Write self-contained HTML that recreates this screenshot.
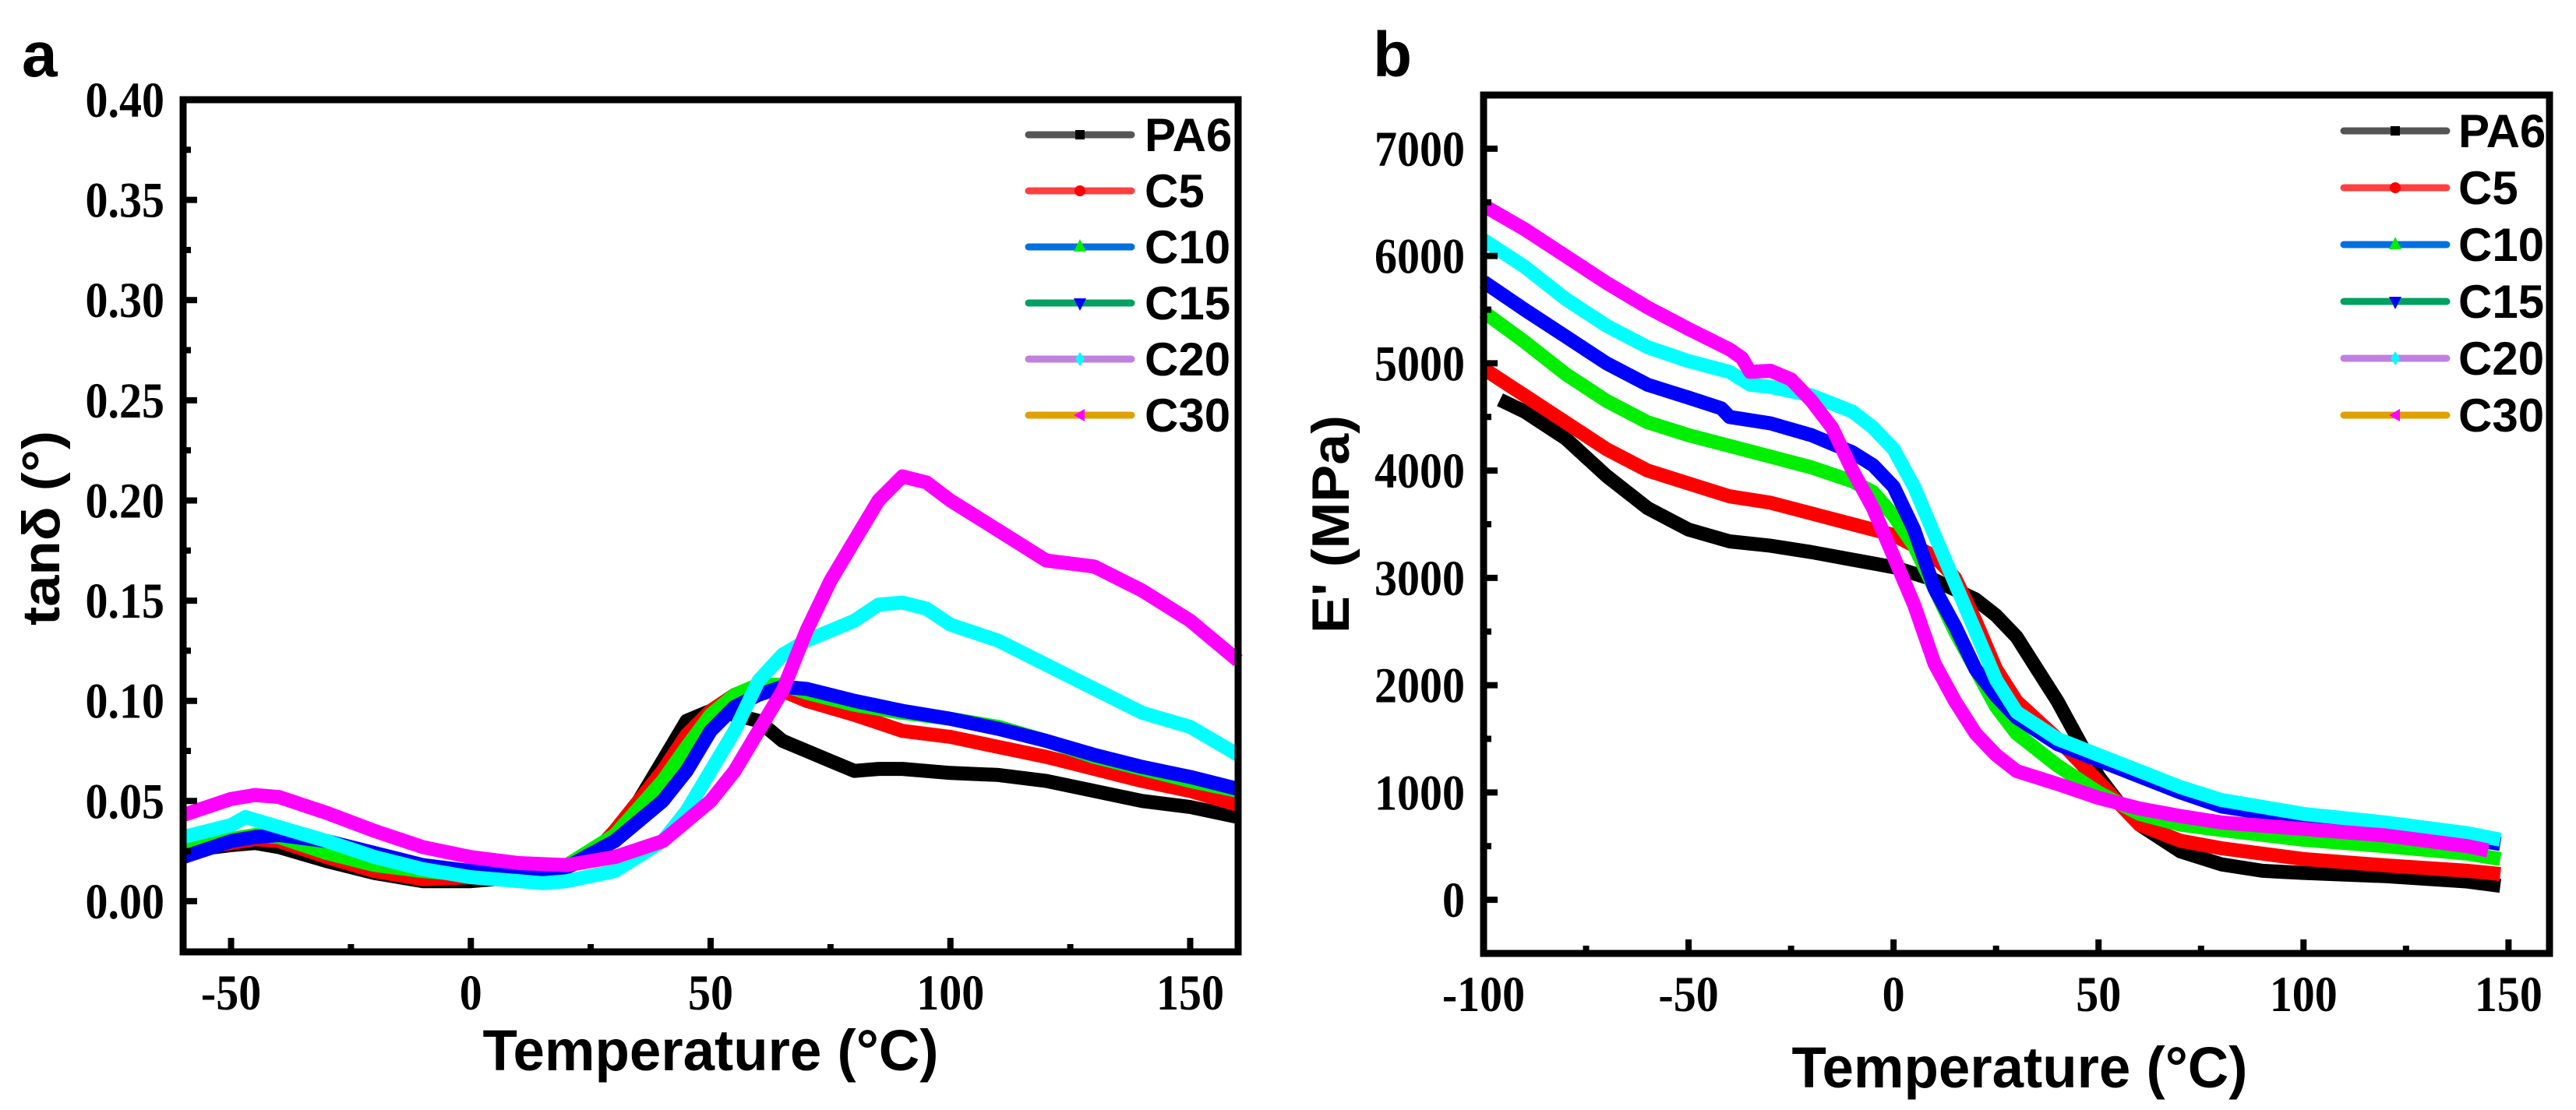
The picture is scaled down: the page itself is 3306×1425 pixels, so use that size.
<!DOCTYPE html>
<html>
<head>
<meta charset="utf-8">
<style>
html,body{margin:0;padding:0;background:#fff;}
svg{display:block;}
.tick{font-family:"Liberation Serif",serif;font-weight:bold;font-size:58px;fill:#000;}
.title{font-family:"Liberation Sans",sans-serif;font-weight:bold;fill:#000;}
.leg{font-family:"Liberation Sans",sans-serif;font-weight:bold;font-size:60px;fill:#000;}
</style>
</head>
<body>
<svg id="fig" width="3306" height="1425" viewBox="0 0 3306 1425" xmlns="http://www.w3.org/2000/svg">
<text x="28" y="98" class="title" font-size="82">a</text>
<text x="1762" y="98" class="title" font-size="82">b</text>
<g id="pa"></g>
<g id="pb"></g>
</svg>
<script>
// ---------- Panel a data (tan delta) ----------
const seriesNames = ["PA6","C5","C10","C15","C20","C30"];
const curveColors = ["#000000","#ff0000","#00ee00","#0000ff","#00ffff","#ff00ff"];
const legendLineColors = ["#555555","#ff4040","#0070e0","#00a060","#c080e0","#e0a000"];
const aTicksX = [-50,0,50,100,150];
const aTicksY = [0.00,0.05,0.10,0.15,0.20,0.25,0.30,0.35,0.40];
const aTickLabelsY = ["0.00","0.05","0.10","0.15","0.20","0.25","0.30","0.35","0.40"];
const aPA6T = [-60,-50,-45,-40,-30,-20,-10,0,10,20,25,30,35,40,45,50,55,60,65,70,75,80,85,90,100,110,120,130,140,150,160];
const aPA6V = [0.025,0.028,0.029,0.027,0.02,0.014,0.01,0.01,0.012,0.017,0.022,0.035,0.05,0.07,0.09,0.095,0.093,0.09,0.08,0.075,0.07,0.065,0.066,0.066,0.064,0.063,0.06,0.055,0.05,0.047,0.042];
const aC5T = [-60,-45,-40,-30,-20,-10,0,10,20,25,30,40,45,50,55,60,65,70,80,90,100,110,120,130,140,150,160];
const aC5V = [0.025,0.031,0.03,0.022,0.015,0.011,0.012,0.014,0.018,0.022,0.035,0.065,0.083,0.095,0.103,0.106,0.105,0.1,0.093,0.085,0.082,0.077,0.072,0.066,0.06,0.055,0.048];
const aC10T = [-60,-45,-40,-30,-20,-10,0,10,20,30,40,45,50,55,60,65,70,80,90,100,110,120,130,140,150,160];
const aC10V = [0.027,0.033,0.032,0.024,0.018,0.015,0.013,0.015,0.018,0.033,0.06,0.077,0.093,0.103,0.108,0.108,0.104,0.098,0.094,0.091,0.087,0.08,0.072,0.066,0.06,0.055];
const aC15T = [-60,-50,-45,-40,-30,-20,-10,0,10,15,20,30,40,45,50,55,60,65,70,80,90,100,110,120,130,140,150,160];
const aC15V = [0.022,0.03,0.032,0.033,0.03,0.024,0.018,0.015,0.014,0.015,0.017,0.03,0.05,0.065,0.085,0.097,0.103,0.107,0.106,0.1,0.095,0.091,0.086,0.08,0.073,0.067,0.062,0.056];
const aC20T = [-60,-50,-47,-40,-30,-20,-10,0,10,15,20,30,40,45,50,55,60,65,70,75,80,85,90,95,100,110,120,130,140,150,160];
const aC20V = [0.032,0.038,0.042,0.037,0.03,0.022,0.016,0.012,0.01,0.009,0.01,0.015,0.03,0.045,0.065,0.085,0.11,0.123,0.13,0.135,0.14,0.148,0.149,0.146,0.138,0.13,0.118,0.106,0.094,0.087,0.073];
const aC30T = [-60,-50,-45,-40,-30,-20,-10,0,10,20,30,40,50,55,60,65,70,75,80,85,90,95,100,110,120,130,140,150,160];
const aC30V = [0.043,0.051,0.053,0.052,0.044,0.035,0.027,0.022,0.019,0.018,0.022,0.03,0.05,0.065,0.085,0.105,0.135,0.16,0.18,0.2,0.212,0.209,0.2,0.185,0.17,0.167,0.155,0.14,0.12];

// ---------- Panel b data (storage modulus) ----------
const bTicksX = [-100,-50,0,50,100,150];
const bTicksY = [0,1000,2000,3000,4000,5000,6000,7000];
const bPA6T = [-96,-90,-80,-70,-60,-50,-40,-30,-20,-10,0,10,20,25,30,35,40,45,50,55,60,70,80,90,100,120,140,148];
const bPA6V = [4660,4550,4300,3950,3650,3450,3340,3300,3240,3170,3100,2980,2800,2650,2450,2150,1850,1500,1150,900,700,450,330,270,250,220,170,130];
const bC5T = [-100,-90,-80,-70,-60,-50,-40,-30,-20,-10,0,10,15,20,25,30,40,50,55,60,70,80,100,120,140,148];
const bC5V = [4950,4700,4450,4200,4000,3880,3760,3700,3600,3500,3400,3200,3000,2600,2150,1850,1500,1100,900,700,550,480,380,320,270,240];
const bC10T = [-100,-90,-80,-70,-60,-50,-40,-30,-20,-10,-5,0,5,10,15,20,25,30,40,50,60,70,80,100,120,140,148];
const bC10V = [5480,5200,4900,4650,4450,4330,4230,4130,4030,3900,3800,3580,3300,2900,2500,2150,1800,1550,1250,1000,800,700,650,560,500,430,380];
const bC15T = [-100,-90,-80,-70,-60,-50,-42,-40,-30,-20,-10,-5,0,5,10,15,20,25,30,40,50,60,70,80,100,120,140,148];
const bC15V = [5760,5500,5250,5000,4800,4680,4580,4500,4440,4330,4170,4050,3850,3450,2900,2550,2150,1900,1700,1450,1300,1150,1000,870,750,650,570,520];
const bC20T = [-100,-90,-80,-70,-60,-50,-40,-35,-30,-20,-10,-5,0,5,10,15,20,25,30,40,50,60,70,80,100,120,140,148];
const bC20V = [6150,5900,5600,5350,5150,5020,4920,4800,4780,4700,4550,4400,4200,3850,3400,2950,2500,2050,1750,1500,1350,1200,1050,930,800,720,620,560];
const bC30T = [-100,-90,-80,-70,-60,-50,-40,-37,-35,-30,-25,-20,-15,-10,-5,0,5,10,15,20,25,30,40,50,60,70,80,100,120,140,145];
const bC30V = [6470,6250,6000,5750,5520,5320,5130,5050,4920,4930,4850,4650,4400,4000,3650,3200,2750,2200,1850,1550,1350,1200,1080,950,850,780,720,660,600,500,460];

const NS = "http://www.w3.org/2000/svg";
function mk(parent, tag, attrs){
  const e = document.createElementNS(NS, tag);
  for (const k in attrs) e.setAttribute(k, attrs[k]);
  parent.appendChild(e);
  return e;
}

function drawPanel(g, cfg){
  const {L,T,R,B,xmin,xmax,ymin,ymax} = cfg;
  const sx = v => L + (v - xmin) / (xmax - xmin) * (R - L);
  const sy = v => B - (v - ymin) / (ymax - ymin) * (B - T);
  const sg = mk(g, "g", {});
  
  
  cfg.series.forEach((s, i) => {
    const pts = s.t.map((t, j) => sx(t).toFixed(1) + "," + sy(s.v[j]).toFixed(1)).join(" ");
    const pl = mk(sg, "polyline", {points: pts, fill: "none", stroke: curveColors[i], "stroke-width": 18, "stroke-linejoin": "round", "stroke-linecap": "butt"});
    
    
  });
  const fr = mk(g, "rect", {x: L, y: T, width: R - L, height: B - T, fill: "none", stroke: "#000", "stroke-width": 9});
  
  
  cfg.xTicks.forEach((v, i) => {
    const x = sx(v);
    const tk = mk(g, "line", {x1: x, x2: x, y1: B, y2: B - 18, stroke: "#000", "stroke-width": 8});
    
    
    const tl = mk(g, "text", {x: 0, y: 0, "text-anchor": "middle", class: "tick", transform: "translate(" + x + "," + (B + 74) + ") scale(1,1.12)"});
    tl.textContent = String(v);
    
    
    const m = v + cfg.xMinor;
    if (m < xmax) {
      const mt = mk(g, "line", {x1: sx(m), x2: sx(m), y1: B, y2: B - 10, stroke: "#000", "stroke-width": 8});
      
      
    }
  });
  cfg.yTicks.forEach((v, i) => {
    const y = sy(v);
    const tk = mk(g, "line", {x1: L, x2: L + 18, y1: y, y2: y, stroke: "#000", "stroke-width": 8});
    
    
    const tl = mk(g, "text", {x: 0, y: 0, "text-anchor": "end", class: "tick", transform: "translate(" + (L - 24) + "," + (y + 22) + ") scale(1,1.12)"});
    tl.textContent = cfg.yLabels[i];
    
    
    const m = v + cfg.yMinor;
    if (m < ymax) {
      const mt = mk(g, "line", {x1: L, x2: L + 10, y1: sy(m), y2: sy(m), stroke: "#000", "stroke-width": 8});
      
      
    }
  });
  const xt = mk(g, "text", {x: cfg.xTitleX, y: cfg.xTitleY, "text-anchor": "middle", class: "title", "font-size": 74, textLength: 585, lengthAdjust: "spacingAndGlyphs"});
  xt.textContent = "Temperature (°C)";
  
  
  const yt = mk(g, "text", {x: 0, y: 0, "text-anchor": "middle", class: "title", "font-size": 68, transform: "translate(" + cfg.yTitleX + "," + cfg.yTitleY + ") rotate(-90)", textLength: cfg.yTitleLen, lengthAdjust: "spacingAndGlyphs"});
  yt.textContent = cfg.yTitle;
  
  
  const lg = mk(g, "g", {});
  
  
  seriesNames.forEach((n, i) => {
    const y = cfg.legY0 + i * cfg.legDY;
    const ent = mk(lg, "g", {});
    
    
    mk(ent, "line", {x1: cfg.legX0, x2: cfg.legX1, y1: y, y2: y, stroke: legendLineColors[i], "stroke-width": 9, "stroke-linecap": "round"});
    const cx = (cfg.legX0 + cfg.legX1) / 2, c = curveColors[i];
    if (i === 0) mk(ent, "rect", {x: cx - 6, y: y - 6, width: 12, height: 12, fill: c});
    else if (i === 1) mk(ent, "circle", {cx: cx, cy: y, r: 7, fill: c});
    else if (i === 2) mk(ent, "polygon", {points: `${cx-8},${y+6} ${cx+8},${y+6} ${cx},${y-10}`, fill: c});
    else if (i === 3) mk(ent, "polygon", {points: `${cx-8},${y-6} ${cx+8},${y-6} ${cx},${y+10}`, fill: c});
    else if (i === 4) mk(ent, "polygon", {points: `${cx},${y-9} ${cx+6},${y} ${cx},${y+9} ${cx-6},${y}`, fill: c});
    else mk(ent, "polygon", {points: `${cx+6},${y-8} ${cx+6},${y+8} ${cx-8},${y}`, fill: c});
    const tx = mk(ent, "text", {x: cfg.legTX, y: y + 21, class: "leg"});
    tx.textContent = n;
  });
}

drawPanel(document.getElementById("pa"), {
  L: 235, T: 128, R: 1589, B: 1222, xmin: -60, xmax: 160, ymin: -0.0253, ymax: 0.40,
  xTicks: aTicksX, xMinor: 25, yTicks: aTicksY, yLabels: aTickLabelsY, yMinor: 0.025,
  xTitleX: 912, xTitleY: 1374, yTitleX: 76, yTitleY: 678, yTitleLen: 250, yTitle: "tanδ (°)",
  legY0: 173, legDY: 72, legX0: 1320, legX1: 1452, legTX: 1469,
  series: [{t:aPA6T,v:aPA6V},{t:aC5T,v:aC5V},{t:aC10T,v:aC10V},{t:aC15T,v:aC15V},{t:aC20T,v:aC20V},{t:aC30T,v:aC30V}]
});
drawPanel(document.getElementById("pb"), {
  L: 1904, T: 122, R: 3272, B: 1224, xmin: -100, xmax: 160, ymin: -500, ymax: 7500,
  xTicks: bTicksX, xMinor: 25, yTicks: bTicksY, yLabels: bTicksY.map(String), yMinor: 500,
  xTitleX: 2592, xTitleY: 1396, yTitleX: 1731, yTitleY: 673, yTitleLen: 280, yTitle: "E' (MPa)",
  legY0: 168, legDY: 73, legX0: 3008, legX1: 3140, legTX: 3155,
  series: [{t:bPA6T,v:bPA6V},{t:bC5T,v:bC5V},{t:bC10T,v:bC10V},{t:bC15T,v:bC15V},{t:bC20T,v:bC20V},{t:bC30T,v:bC30V}]
});
</script>
</body>
</html>
